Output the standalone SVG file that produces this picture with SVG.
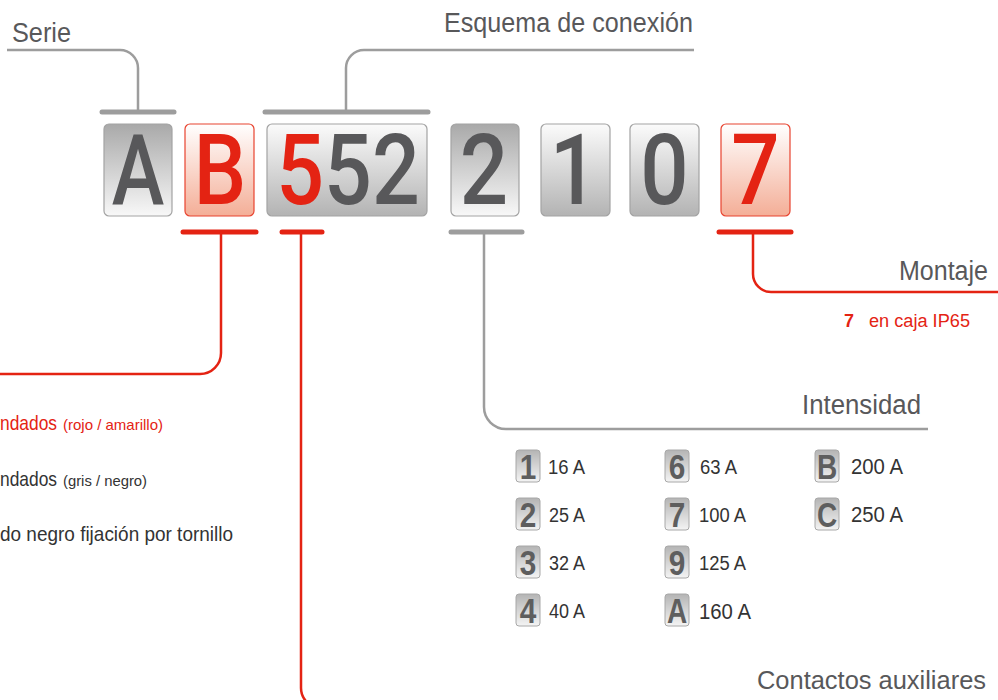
<svg xmlns="http://www.w3.org/2000/svg" width="998" height="700" viewBox="0 0 998 700">
<defs>
<linearGradient id="gDarkTop" x1="0" y1="0" x2="0" y2="1"><stop offset="0" stop-color="#a9a9a9"/><stop offset="1" stop-color="#f8f8f8"/></linearGradient>
<linearGradient id="gLightTop" x1="0" y1="0" x2="0" y2="1"><stop offset="0" stop-color="#fbfbfb"/><stop offset="1" stop-color="#b3b3b3"/></linearGradient>
<linearGradient id="gRed" x1="0" y1="0" x2="0" y2="1"><stop offset="0" stop-color="#ffffff"/><stop offset="1" stop-color="#f4ae97"/></linearGradient>
<linearGradient id="gKey" x1="0" y1="0" x2="0" y2="1"><stop offset="0" stop-color="#b4b4b4"/><stop offset="1" stop-color="#f4f4f4"/></linearGradient>
<style>
text{font-family:"Liberation Sans",Arial,sans-serif}
.hd{font-size:27px;fill:#58585a}
.big{font-family:Roboto,"Liberation Sans",sans-serif;font-weight:500;font-size:99px;fill:#58585a;text-anchor:middle}
.r{fill:#e42313}
.lbl{font-size:19.5px;fill:#333333}
.lbl2{font-size:22px;fill:#333333}
.key{font-size:35px;font-weight:bold;fill:#5e5e5e;text-anchor:middle}
.left{font-size:21px}
.small{font-size:15px}
.bx{stroke:#a3a3a3;stroke-width:1.2}
.bxr{stroke:#e8432f;stroke-width:1.2}
.kb{fill:url(#gKey);stroke:#a8a8a8;stroke-width:1}
.ln{fill:none;stroke-width:2.5}
.g{stroke:#9d9d9d}
.rl{stroke:#e42313}
.bar{stroke-width:5;stroke-linecap:round}
</style>
</defs>

<g id="connectors">
<path class="ln g" d="M7,50 H120 A18,18 0 0 1 138,68 V112"/>
<path class="ln g bar" d="M102,112 H174"/>
<path class="ln g" d="M694,50 H364 A18,18 0 0 0 346,68 V112"/>
<path class="ln g bar" d="M265,112 H428"/>
<path class="ln rl bar" d="M183,232 H256"/>
<path class="ln rl" d="M221,232 V353 A21,21 0 0 1 200,374 H0"/>
<path class="ln rl bar" d="M282,232 H322"/>
<path class="ln rl" d="M301,232 V688 A20,20 0 0 0 321,708 H998"/>
<path class="ln g bar" d="M451,232 H522"/>
<path class="ln g" d="M484,232 V407 A22,22 0 0 0 506,429 H928"/>
<path class="ln rl bar" d="M719,232 H791"/>
<path class="ln rl" d="M753,232 V274 A18,18 0 0 0 771,292 H998"/>
</g>

<g id="titles">
<text class="hd" x="12" y="42" textLength="59" lengthAdjust="spacingAndGlyphs">Serie</text>
<text class="hd" x="444" y="32" textLength="249" lengthAdjust="spacingAndGlyphs">Esquema de conexión</text>
<text class="hd" x="899" y="280" textLength="89" lengthAdjust="spacingAndGlyphs">Montaje</text>
<text class="hd" x="802" y="414" textLength="119" lengthAdjust="spacingAndGlyphs">Intensidad</text>
<text class="hd" x="757" y="689" style="font-size:26px" textLength="229" lengthAdjust="spacingAndGlyphs">Contactos auxiliares</text>
</g>

<g id="code-A"><rect class="bx" x="104" y="124" width="68" height="92" rx="5" fill="url(#gDarkTop)"/><text class="big" transform="translate(138 204) scale(0.8 1)">A</text></g>
<g id="code-B"><rect class="bxr" x="185" y="124" width="69" height="92" rx="5" fill="url(#gRed)"/><text class="big r" transform="translate(220 204) scale(0.84 1)">B</text></g>
<g id="code-552"><rect class="bx" x="267" y="124" width="160" height="92" rx="5" fill="url(#gLightTop)"/><text class="big" transform="translate(348 204) scale(0.85 1)"><tspan class="r">5</tspan>52</text></g>
<g id="code-2"><rect class="bx" x="451" y="124" width="68" height="92" rx="5" fill="url(#gDarkTop)"/><text class="big" transform="translate(484 204) scale(0.86 1)">2</text></g>
<g id="code-1"><rect class="bx" x="541" y="124" width="69" height="92" rx="5" fill="url(#gLightTop)"/><text class="big" transform="translate(574 204) scale(0.86 1)">1</text></g>
<g id="code-0"><rect class="bx" x="630" y="124" width="69" height="92" rx="5" fill="url(#gLightTop)"/><text class="big" transform="translate(664.5 204) scale(0.86 1)">0</text></g>
<g id="code-7"><rect class="bxr" x="721" y="124" width="69" height="92" rx="5" fill="url(#gRed)"/><text class="big r" transform="translate(755.5 204) scale(0.86 1)">7</text></g>

<g id="montaje-opts">
<text class="r" x="844" y="327" style="font-size:18px;font-weight:bold">7</text>
<text class="r" x="869" y="327" style="font-size:18px" textLength="101" lengthAdjust="spacingAndGlyphs">en caja IP65</text>
</g>

<g id="left-opts">
<text class="left r" x="0" y="430" textLength="57" lengthAdjust="spacingAndGlyphs">ndados</text>
<text class="small r" x="63" y="430" textLength="100" lengthAdjust="spacingAndGlyphs">(rojo / amarillo)</text>
<text class="left" fill="#333" x="0" y="486" textLength="57" lengthAdjust="spacingAndGlyphs">ndados</text>
<text class="small" fill="#333" x="63" y="486" textLength="84" lengthAdjust="spacingAndGlyphs">(gris / negro)</text>
<text class="left" fill="#333" x="0" y="541" textLength="233" lengthAdjust="spacingAndGlyphs">do negro fijación por tornillo</text>
</g>

<g id="int-1"><rect class="kb" x="516" y="450" width="24" height="32" rx="3"/><text class="key" transform="translate(528 478.5) scale(0.85 1)">1</text><text class="lbl" x="548" y="474" textLength="37" lengthAdjust="spacingAndGlyphs">16 A</text></g>
<g id="int-2"><rect class="kb" x="516" y="498" width="24" height="32" rx="3"/><text class="key" transform="translate(528 526.5) scale(0.85 1)">2</text><text class="lbl" x="549" y="522" textLength="36" lengthAdjust="spacingAndGlyphs">25 A</text></g>
<g id="int-3"><rect class="kb" x="516" y="546" width="24" height="32" rx="3"/><text class="key" transform="translate(528 574.5) scale(0.85 1)">3</text><text class="lbl" x="549" y="570" textLength="36" lengthAdjust="spacingAndGlyphs">32 A</text></g>
<g id="int-4"><rect class="kb" x="516" y="594" width="24" height="32" rx="3"/><text class="key" transform="translate(528 622.5) scale(0.85 1)">4</text><text class="lbl" x="549" y="618" textLength="36" lengthAdjust="spacingAndGlyphs">40 A</text></g>
<g id="int-6"><rect class="kb" x="665" y="450" width="24" height="32" rx="3"/><text class="key" transform="translate(677 478.5) scale(0.85 1)">6</text><text class="lbl" x="700" y="474" textLength="37" lengthAdjust="spacingAndGlyphs">63 A</text></g>
<g id="int-7"><rect class="kb" x="665" y="498" width="24" height="32" rx="3"/><text class="key" transform="translate(677 526.5) scale(0.85 1)">7</text><text class="lbl" x="699" y="522" textLength="47" lengthAdjust="spacingAndGlyphs">100 A</text></g>
<g id="int-9"><rect class="kb" x="665" y="546" width="24" height="32" rx="3"/><text class="key" transform="translate(677 574.5) scale(0.85 1)">9</text><text class="lbl" x="699" y="570" textLength="47" lengthAdjust="spacingAndGlyphs">125 A</text></g>
<g id="int-A"><rect class="kb" x="665" y="594" width="24" height="32" rx="3"/><text class="key" transform="translate(677 622.5) scale(0.8 1)">A</text><text class="lbl2" x="699" y="619" textLength="52" lengthAdjust="spacingAndGlyphs">160 A</text></g>
<g id="int-B"><rect class="kb" x="815" y="450" width="24" height="32" rx="3"/><text class="key" transform="translate(827 478.5) scale(0.8 1)">B</text><text class="lbl2" x="851" y="474" textLength="52" lengthAdjust="spacingAndGlyphs">200 A</text></g>
<g id="int-C"><rect class="kb" x="815" y="498" width="24" height="32" rx="3"/><text class="key" transform="translate(827 526.5) scale(0.8 1)">C</text><text class="lbl2" x="851" y="522" textLength="52" lengthAdjust="spacingAndGlyphs">250 A</text></g>
</svg>
